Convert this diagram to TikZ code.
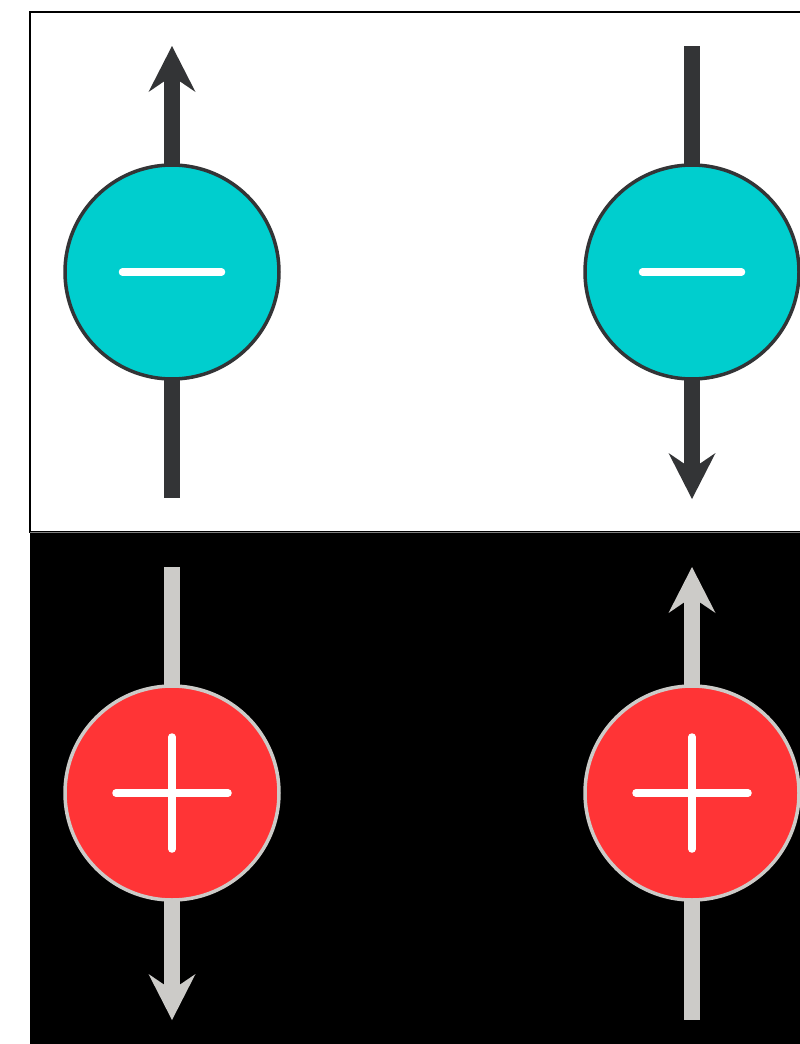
\documentclass[tikz,border=0pt]{standalone}
\usetikzlibrary{arrows.meta}
\pgfdeclarelayer{bg}
\pgfsetlayers{bg,main}
\definecolor{shaftdark}{RGB}{51,52,54}
\definecolor{shaftlight}{RGB}{204,203,200}
\definecolor{anioncyan}{RGB}{0,206,206}
\definecolor{cationred}{RGB}{255,52,54}
\tikzset{
  ion/.style={circle, minimum size=214pt, inner sep=0pt, line width=3.5pt},
  negion/.style={ion, fill=anioncyan, draw=shaftdark},
  posion/.style={ion, fill=cationred, draw=shaftlight},
  spinshaft/.style={line width=15.5pt, line cap=butt},
  spinhead/.style={-{Stealth[length=46pt,width=47pt,inset=16pt,line width=0pt]}},
  signbar/.style={white, line width=7.5pt, line cap=round},
}
\begin{document}
\begin{tikzpicture}[x=1pt,y=-1pt]
\useasboundingbox (0,0) rectangle (800,1044);
\clip (0,0) rectangle (800,1044);

% ions
\node[negion] (n1) at (172,272) {};
\node[negion] (n2) at (692,272) {};
\node[posion] (p1) at (172,793) {};
\node[posion] (p2) at (692,793) {};

% ends of the spin arrows
\coordinate (n1top) at (172,46);
\coordinate (n1bot) at (172,498);
\coordinate (n2top) at (692,46);
\coordinate (n2bot) at (692,499);
\coordinate (p1top) at (172,567);
\coordinate (p1bot) at (172,1020);
\coordinate (p2top) at (692,567);
\coordinate (p2bot) at (692,1020);

\begin{pgfonlayer}{bg}
  % panels
  \fill[white] (0,0) rectangle (800,1044);
  \draw[line width=1.5pt, fill=white] (30,12) rectangle (830,532);
  \fill[black] (29.5,532) rectangle (830,1060);
  \draw[gray, line width=0.8pt] (30,532) -- (830,532);
  % spin arrows behind the ions
  \draw[spinshaft, shaftdark, spinhead] (n1.center) -- (n1top);
  \draw[spinshaft, shaftdark] (n1.center) -- (n1bot);
  \draw[spinshaft, shaftdark] (n2.center) -- (n2top);
  \draw[spinshaft, shaftdark, spinhead] (n2.center) -- (n2bot);
  \draw[spinshaft, shaftlight] (p1.center) -- (p1top);
  \draw[spinshaft, shaftlight, spinhead] (p1.center) -- (p1bot);
  \draw[spinshaft, shaftlight, spinhead] (p2.center) -- (p2top);
  \draw[spinshaft, shaftlight] (p2.center) -- (p2bot);
\end{pgfonlayer}

% charge signs
\draw[signbar] ([xshift=-49.5pt]n1.center) -- ([xshift=49.5pt]n1.center);
\draw[signbar] ([xshift=-49.5pt]n2.center) -- ([xshift=49.5pt]n2.center);
\draw[signbar] ([xshift=-56pt]p1.center) -- ([xshift=56pt]p1.center);
\draw[signbar] ([yshift=-56pt]p1.center) -- ([yshift=56pt]p1.center);
\draw[signbar] ([xshift=-56pt]p2.center) -- ([xshift=56pt]p2.center);
\draw[signbar] ([yshift=-56pt]p2.center) -- ([yshift=56pt]p2.center);
\end{tikzpicture}
\end{document}
